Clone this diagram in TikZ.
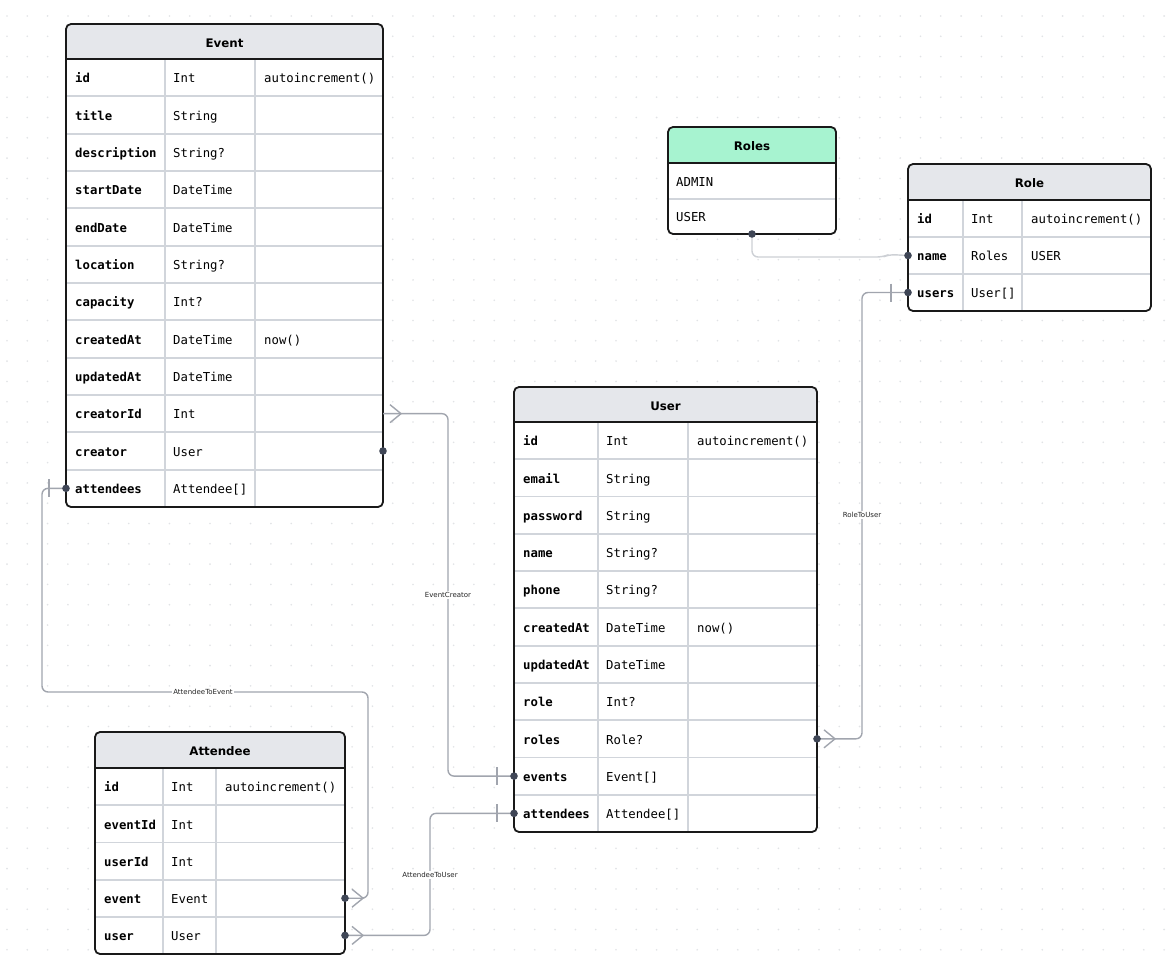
\documentclass[tikz,border=0pt]{standalone}
\usepackage{fontspec}
\setmainfont{DejaVu Sans}
\setmonofont{DejaVu Sans Mono}
\usetikzlibrary{calc}

\definecolor{hdrgray}{HTML}{E5E7EB}
\definecolor{hdrgreen}{HTML}{A7F3D0}
\definecolor{sepgray}{HTML}{D1D5DB}
\definecolor{relgray}{HTML}{A1A5AE}
\definecolor{rolegray}{HTML}{CDD0D5}
\definecolor{dotdark}{HTML}{3F4656}
\definecolor{griddot}{HTML}{E1E3E6}

\tikzset{
  frame/.style={draw=black!90, line width=1.8, rounded corners=5},
  rowsep/.style={draw=sepgray, line width=1.8},
  hdrline/.style={draw=black!90, line width=1.8},
  tabletitle/.style={font=\fontsize{11.8}{13}\selectfont\bfseries, text=black, inner sep=0},
  fname/.style={font=\fontsize{12.3}{14}\selectfont\ttfamily\bfseries, anchor=base west, inner sep=0},
  ftype/.style={font=\fontsize{12.3}{14}\selectfont\ttfamily, anchor=base west, inner sep=0},
  rel/.style={draw=relgray, line width=1.4, rounded corners=6},
  relmark/.style={draw=relgray, line width=1.4},
  rellabel/.style={font=\fontsize{7}{8}\selectfont, fill=white, inner sep=1.5, text=black!85},
}

\def\nothing{-}

% Draws one model box; geometry is read from \Lx \Rx \Ty \Hy \By \Ca \Cb \Nr \Hc \Rows
\newcommand\erdtable[2]{%
  \pgfmathsetmacro\Rh{(\By-\Hy)/\Nr}%
  \pgfmathtruncatemacro\Nm{\Nr-1}%
  \begin{scope}
    \clip[rounded corners=5] (\Lx,\Ty) rectangle (\Rx,\By);
    \fill[white] (\Lx,\Ty) rectangle (\Rx,\By);
    \fill[fill=\Hc] (\Lx,\Ty) rectangle (\Rx,\Hy);
  \end{scope}
  \foreach \k in {1,...,\Nm} \draw[rowsep] (\Lx,{\Hy+\k*\Rh}) -- (\Rx,{\Hy+\k*\Rh});
  \draw[rowsep] (\Ca,\Hy) -- (\Ca,\By);
  \draw[rowsep] (\Cb,\Hy) -- (\Cb,\By);
  \draw[hdrline] (\Lx,\Hy) -- (\Rx,\Hy);
  \draw[frame] (\Lx,\Ty) rectangle (\Rx,\By);
  \node[tabletitle] (#1) at ({(\Lx+\Rx)/2},{(\Ty+\Hy)/2+1.5}) {#2};
  \foreach \a/\b/\c [count=\i] in \Rows {
    \pgfmathsetmacro\yy{\Hy+(\i-0.5)*\Rh}
    \coordinate (#1-\a-W) at (\Lx,\yy);
    \coordinate (#1-\a-E) at (\Rx,\yy);
    \node[fname] (#1-\a) at (\Lx+9,\yy+5.2) {\a};
    \node[ftype] (#1-\a-t) at (\Ca+8,\yy+5.2) {\b};
    \ifx\c\nothing\else
      \node[ftype] (#1-\a-d) at (\Cb+9,\yy+5.2) {\c};
    \fi
  }
}

% relation end markers
\newcommand\crowE[1]{\draw[relmark] ($(#1)+(7,-9)$) -- ($(#1)+(18,0)$) -- ($(#1)+(7,9)$);}
\newcommand\barW[1]{\draw[relmark] ($(#1)+(-17,-9)$) -- ($(#1)+(-17,9)$);}

\begin{document}
\begin{tikzpicture}[x=1pt,y=-1pt]
\fill[white] (0,0) rectangle (1172,966);
\useasboundingbox (0,0) rectangle (1172,966);

% dotted canvas
\foreach \gx in {0,...,57}
  \foreach \gy in {0,...,46}
    \fill[griddot] ({7+\gx*20.3},{16+\gy*20.3}) circle (0.9);

% Event
\def\Lx{66}\def\Rx{383}\def\Ty{24}\def\Hy{59}\def\By{507}
\def\Ca{165}\def\Cb{255}\def\Nr{12}\def\Hc{hdrgray}
\def\Rows{id/Int/autoincrement(), title/String/-, description/{String?}/-,
  startDate/DateTime/-, endDate/DateTime/-, location/{String?}/-,
  capacity/{Int?}/-, createdAt/DateTime/now(), updatedAt/DateTime/-,
  creatorId/Int/-, creator/User/-, attendees/{Attendee[]}/-}
\erdtable{ev}{Event}

% User
\def\Lx{514}\def\Rx{817}\def\Ty{387}\def\Hy{422}\def\By{832}
\def\Ca{598}\def\Cb{688}\def\Nr{11}\def\Hc{hdrgray}
\def\Rows{id/Int/autoincrement(), email/String/-, password/String/-,
  name/{String?}/-, phone/{String?}/-, createdAt/DateTime/now(),
  updatedAt/DateTime/-, role/{Int?}/-, roles/{Role?}/-,
  events/{Event[]}/-, attendees/{Attendee[]}/-}
\erdtable{us}{User}

% Attendee
\def\Lx{95}\def\Rx{345}\def\Ty{732}\def\Hy{768}\def\By{954}
\def\Ca{163}\def\Cb{216}\def\Nr{5}\def\Hc{hdrgray}
\def\Rows{id/Int/autoincrement(), eventId/Int/-, userId/Int/-,
  event/Event/-, user/User/-}
\erdtable{at}{Attendee}

% Role
\def\Lx{908}\def\Rx{1151}\def\Ty{164}\def\Hy{200}\def\By{311}
\def\Ca{963}\def\Cb{1022}\def\Nr{3}\def\Hc{hdrgray}
\def\Rows{id/Int/autoincrement(), name/Roles/USER, users/{User[]}/-}
\erdtable{ro}{Role}

% Roles enum
\begin{scope}
  \clip[rounded corners=5] (668,127) rectangle (836,234);
  \fill[white] (668,127) rectangle (836,234);
  \fill[hdrgreen] (668,127) rectangle (836,163);
\end{scope}
\draw[rowsep] (668,198.75) -- (836,198.75);
\draw[hdrline] (668,163) -- (836,163);
\draw[frame] (668,127) rectangle (836,234);
\node[tabletitle] (rl) at (752,146.5) {Roles};
\node[ftype] (rl-admin) at (676,186) {ADMIN};
\node[ftype] (rl-user) at (676,221.4) {USER};
\coordinate (rl-S) at (752,234);

% relation: EventCreator
\coordinate (ec-mid) at (448,595);
\draw[rel] (ev-creatorId-E) -| (ec-mid) |- (us-events-W);
\crowE{ev-creatorId-E}
\barW{us-events-W}
\node[rellabel] (lbl-ec) at (ec-mid) {EventCreator};

% relation: AttendeeToEvent
\coordinate (ae-west) at (42,692);
\coordinate (ae-mid) at (203,692);
\coordinate (ae-east) at (368,692);
\draw[rel] (ev-attendees-W) -| (ae-west) -- (ae-mid) -- (ae-east) |- (at-event-E);
\barW{ev-attendees-W}
\crowE{at-event-E}
\node[rellabel] (lbl-ae) at (ae-mid) {AttendeeToEvent};

% relation: AttendeeToUser
\coordinate (au-mid) at (430,875);
\draw[rel] (at-user-E) -| (au-mid) |- (us-attendees-W);
\crowE{at-user-E}
\barW{us-attendees-W}
\node[rellabel] (lbl-au) at (au-mid) {AttendeeToUser};

% relation: RoleToUser
\coordinate (ru-mid) at (862,515);
\draw[rel] (us-roles-E) -| (ru-mid) |- (ro-users-W);
\crowE{us-roles-E}
\barW{ro-users-W}
\node[rellabel] (lbl-ru) at (ru-mid) {RoleToUser};

% enum reference Roles -> Role.name
\draw[rel, draw=rolegray] (rl-S) |- ($(ro-name-W)+(-25,1.5)$) -- ($(ro-name-W)+(-19,-1)$) -- (ro-name-W);

% field end dots
\foreach \p in {ev-creator-E, ev-attendees-W, us-events-W, us-attendees-W,
  us-roles-E, at-event-E, at-user-E, ro-name-W, ro-users-W, rl-S}
  \fill[dotdark] (\p) circle (3.8);
\end{tikzpicture}
\end{document}
